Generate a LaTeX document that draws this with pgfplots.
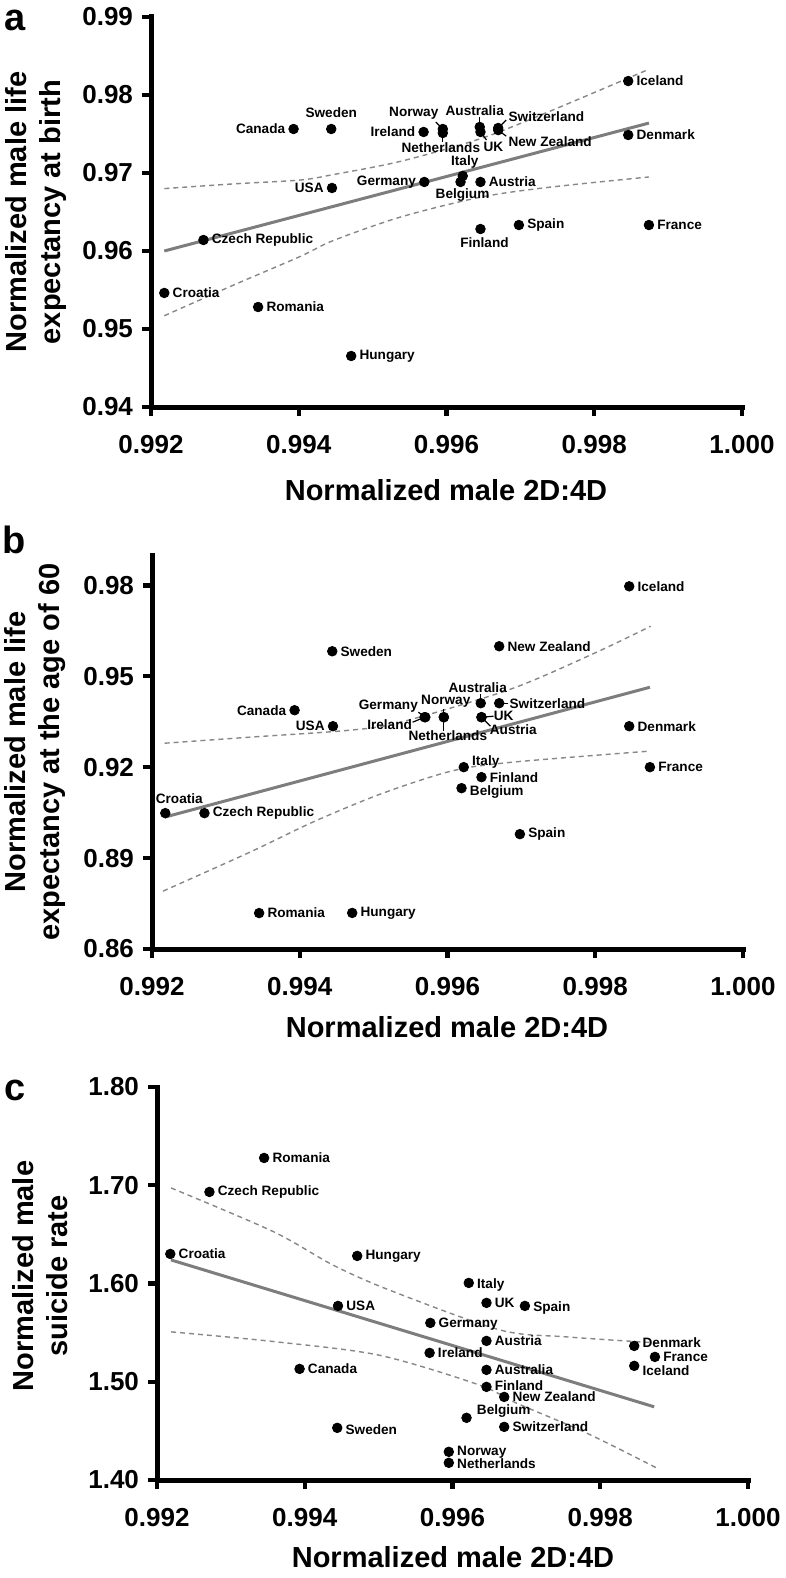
\documentclass[border=0pt]{standalone}
\usepackage{fontspec}
\setmainfont{Liberation Sans}
\usepackage{pgfplots}
\pgfplotsset{compat=1.18}

\definecolor{fitgray}{RGB}{125,125,125}
\definecolor{bandgray}{RGB}{135,135,135}

\tikzset{leader/.style={line width=0.6pt, black},
  lbl/.style={font=\fontsize{6.8}{7}\selectfont\bfseries, inner sep=0.5pt}}
% \lab{x}{y}{anchor}{dx}{dy}{text}
\newcommand{\lab}[6]{\node[lbl, anchor=#3, xshift=#4pt, yshift=#5pt] at (axis cs:#1,#2) {#6};}

\pgfplotsset{
  panel/.style={
    scale only axis, width=295.5pt, anchor=south west,
    axis lines=left,
    axis line style={line width=2.5pt,-,line cap=rect},
    tick align=outside, major tick length=4.5pt,
    tick style={line width=2.2pt,black},
    xmin=0.992, xmax=1.000,
    xtick={0.992,0.994,0.996,0.998,1.000},
    tick label style={font=\fontsize{13}{13}\selectfont\bfseries},
    /pgf/number format/assume math mode=true,
    xticklabel style={yshift=-6pt,/pgf/number format/.cd,fixed,fixed zerofill,precision=3,assume math mode=true},
    yticklabel style={xshift=-1pt,/pgf/number format/.cd,fixed,fixed zerofill,precision=2,assume math mode=true},
    clip=false,
  },
  countries/.style={only marks, mark=*, mark size=2.4pt, black, mark options={fill=black}},
  fit/.style={no marks, fitgray, line width=1.5pt},
  band/.style={no marks, bandgray, line width=0.7pt, dash pattern=on 2.5pt off 2pt, smooth},
}

\begin{document}
\begin{tikzpicture}
\useasboundingbox (0,0) rectangle (393pt,-789pt);

% ---- a: life expectancy at birth
\begin{axis}[panel, at={(75.5pt,-203.5pt)}, height=195pt,
  ymin=0.94, ymax=0.99, ytick={0.94,0.95,0.96,0.97,0.98,0.99}]
\addplot[band] coordinates {(0.99218,0.96800) (0.99311,0.96860) (0.99402,0.96910) (0.99447,0.96980) (0.99538,0.97150) (0.99646,0.97440) (0.99737,0.97780) (0.99874,0.98330)};
\addplot[band] coordinates {(0.99218,0.95170) (0.99311,0.95560) (0.99402,0.95930) (0.99447,0.96135) (0.99538,0.96436) (0.99646,0.96690) (0.99737,0.96815) (0.99874,0.96949)};
\addplot[fit] coordinates {(0.99218,0.9600) (0.99874,0.9764)};
\addplot[countries] table {
x y
0.99218 0.95462
0.99271 0.96141
0.99345 0.95282
0.99471 0.94654
0.99393 0.97564
0.99444 0.97564
0.99445 0.96808
0.99570 0.96885
0.99569 0.97526
0.99595 0.97564
0.99595 0.97513
0.99645 0.97590
0.99646 0.97526
0.99670 0.97577
0.99670 0.97550
0.99622 0.96962
0.99619 0.96885
0.99646 0.96885
0.99646 0.96282
0.99698 0.96333
0.99874 0.96333
0.99846 0.98179
0.99846 0.97487
};
\lab{0.99218}{0.95462}{west}{3.5}{0}{Croatia}
\lab{0.99271}{0.96141}{west}{3.5}{0}{Czech Republic}
\lab{0.99345}{0.95282}{west}{3.5}{0}{Romania}
\lab{0.99471}{0.94654}{west}{3.5}{0}{Hungary}
\lab{0.99393}{0.97564}{east}{-3.5}{0}{Canada}
\lab{0.99444}{0.97564}{center}{0}{8}{Sweden}
\lab{0.99445}{0.96808}{east}{-3.5}{0}{USA}
\lab{0.99570}{0.96885}{east}{-3.5}{0}{Germany}
\lab{0.99569}{0.97526}{east}{-3.5}{0}{Ireland}
\lab{0.99595}{0.97564}{center}{-14.5}{8}{Norway}
\lab{0.99595}{0.97513}{center}{-1}{-7.5}{Netherlands}
\lab{0.99645}{0.97590}{center}{-2.5}{8}{Australia}
\lab{0.99646}{0.97526}{center}{6.5}{-7.5}{UK}
\lab{0.99670}{0.97577}{west}{4.5}{5.5}{Switzerland}
\lab{0.99670}{0.97550}{west}{4.5}{-6}{New Zealand}
\lab{0.99622}{0.96962}{center}{1}{7}{Italy}
\lab{0.99619}{0.96885}{center}{1}{-6.5}{Belgium}
\lab{0.99646}{0.96885}{west}{3.5}{0}{Austria}
\lab{0.99646}{0.96282}{center}{2}{-7}{Finland}
\lab{0.99698}{0.96333}{west}{3.5}{0}{Spain}
\lab{0.99874}{0.96333}{west}{3.5}{0}{France}
\lab{0.99846}{0.98179}{west}{3.5}{0}{Iceland}
\lab{0.99846}{0.97487}{west}{3.5}{0}{Denmark}
\draw[leader] (axis cs:0.99595,0.97564) -- ++(-3.5pt,3.5pt);
\draw[leader] (axis cs:0.99595,0.97513) -- ++(0pt,-4.5pt);
\draw[leader] (axis cs:0.99645,0.97590) -- ++(0pt,5pt);
\draw[leader] (axis cs:0.99646,0.97526) -- ++(3pt,-4pt);
\draw[leader] (axis cs:0.99670,0.97577) -- ++(4pt,4pt);
\draw[leader] (axis cs:0.99670,0.97550) -- ++(4pt,-3pt);
\end{axis}

% ---- b: life expectancy at 60
\begin{axis}[panel, at={(76pt,-474.5pt)}, height=197pt,
  ymin=0.86, ymax=0.99, ytick={0.86,0.89,0.92,0.95,0.98}]
\addplot[band] coordinates {(0.99217,0.9279) (0.99333,0.9299) (0.99468,0.9322) (0.99536,0.9348) (0.99685,0.9457) (0.99798,0.9575) (0.99875,0.9665)};
\addplot[band] coordinates {(0.99215,0.8791) (0.99333,0.8920) (0.99418,0.9019) (0.99509,0.9111) (0.99605,0.9187) (0.99686,0.9216) (0.99874,0.9253)};
\addplot[fit] coordinates {(0.99217,0.9035) (0.99874,0.94637)};
\addplot[countries] table {
x y
0.99218 0.90483
0.99271 0.90483
0.99345 0.87186
0.99471 0.87190
0.99393 0.93879
0.99444 0.95824
0.99445 0.93351
0.99570 0.93648
0.99569 0.93648
0.99595 0.93648
0.99595 0.93648
0.99645 0.94110
0.99646 0.93648
0.99646 0.93648
0.99670 0.94110
0.99670 0.95989
0.99622 0.92000
0.99619 0.91307
0.99646 0.91670
0.99698 0.89790
0.99874 0.92000
0.99846 0.97967
0.99846 0.93351
};
\lab{0.99218}{0.90483}{center}{7}{7.5}{Croatia}
\lab{0.99271}{0.90483}{west}{3.5}{0}{Czech Republic}
\lab{0.99345}{0.87186}{west}{3.5}{0}{Romania}
\lab{0.99471}{0.87190}{west}{3.5}{0}{Hungary}
\lab{0.99393}{0.93879}{east}{-3.5}{0}{Canada}
\lab{0.99444}{0.95824}{west}{3.5}{0}{Sweden}
\lab{0.99445}{0.93351}{east}{-3.5}{0}{USA}
\lab{0.99570}{0.93648}{center}{-18.5}{5.5}{Germany}
\lab{0.99569}{0.93648}{center}{-17.5}{-3.5}{Ireland}
\lab{0.99595}{0.93648}{center}{1}{8}{Norway}
\lab{0.99595}{0.93648}{center}{2}{-9}{Netherlands}
\lab{0.99645}{0.94110}{center}{-1.5}{8}{Australia}
\lab{0.99646}{0.93648}{west}{5.5}{0.5}{UK}
\lab{0.99646}{0.93648}{west}{3.5}{-6}{Austria}
\lab{0.99670}{0.94110}{west}{4.5}{0}{Switzerland}
\lab{0.99670}{0.95989}{west}{3.5}{0}{New Zealand}
\lab{0.99622}{0.92000}{west}{3.5}{2.5}{Italy}
\lab{0.99619}{0.91307}{west}{3.5}{-2}{Belgium}
\lab{0.99646}{0.91670}{west}{3.5}{0}{Finland}
\lab{0.99698}{0.89790}{west}{3.5}{0}{Spain}
\lab{0.99874}{0.92000}{west}{3.5}{0}{France}
\lab{0.99846}{0.97967}{west}{3.5}{0}{Iceland}
\lab{0.99846}{0.93351}{west}{3.5}{0}{Denmark}
\draw[leader] (axis cs:0.99570,0.93648) -- ++(-3.5pt,2.5pt);
\draw[leader] (axis cs:0.99569,0.93648) -- ++(-6pt,-2.5pt);
\draw[leader] (axis cs:0.99595,0.93648) -- ++(0pt,4pt);
\draw[leader] (axis cs:0.99595,0.93648) -- ++(0pt,-7pt);
\draw[leader] (axis cs:0.99645,0.94110) -- ++(0pt,4.5pt);
\draw[leader] (axis cs:0.99670,0.94110) -- ++(4.5pt,0pt);
\draw[leader] (axis cs:0.99646,0.93648) -- ++(6pt,0.5pt);
\draw[leader] (axis cs:0.99646,0.93648) -- ++(4.5pt,-4.5pt);
\end{axis}

% ---- c: suicide rate
\begin{axis}[panel, at={(78.5pt,-740pt)}, height=196.5pt,
  ymin=1.40, ymax=1.80, ytick={1.40,1.50,1.60,1.70,1.80}]
\addplot[band] coordinates {(0.99219,1.6973) (0.99357,1.6530) (0.99438,1.6189) (0.99514,1.5935) (0.99664,1.5528) (0.99754,1.5457) (0.99876,1.5396)};
\addplot[band] coordinates {(0.99219,1.5508) (0.99357,1.5410) (0.99501,1.5270) (0.99636,1.4968) (0.99686,1.4785) (0.99781,1.4480) (0.99876,1.4124)};
\addplot[fit] coordinates {(0.99219,1.6240) (0.99873,1.4745)};
\addplot[countries] table {
x y
0.99345 1.7278
0.99271 1.6932
0.99218 1.6301
0.99471 1.6281
0.99445 1.5772
0.99393 1.5131
0.99444 1.4531
0.99622 1.6006
0.99646 1.5803
0.99698 1.5772
0.99570 1.5599
0.99646 1.5416
0.99569 1.5294
0.99646 1.5121
0.99646 1.4948
0.99670 1.4846
0.99619 1.4633
0.99670 1.4541
0.99595 1.4287
0.99595 1.4175
0.99846 1.5365
0.99874 1.5253
0.99846 1.5162
};
\lab{0.99345}{1.7278}{west}{3.5}{0}{Romania}
\lab{0.99271}{1.6932}{west}{3.5}{0}{Czech Republic}
\lab{0.99218}{1.6301}{west}{3.5}{0}{Croatia}
\lab{0.99471}{1.6281}{west}{3.5}{0}{Hungary}
\lab{0.99445}{1.5772}{west}{3.5}{0}{USA}
\lab{0.99393}{1.5131}{west}{3.5}{0}{Canada}
\lab{0.99444}{1.4531}{west}{3.5}{-1}{Sweden}
\lab{0.99622}{1.6006}{west}{3.5}{-1}{Italy}
\lab{0.99646}{1.5803}{west}{3.5}{0}{UK}
\lab{0.99698}{1.5772}{west}{3.5}{-1}{Spain}
\lab{0.99570}{1.5599}{west}{3.5}{-0.5}{Germany}
\lab{0.99646}{1.5416}{west}{3.5}{0}{Austria}
\lab{0.99569}{1.5294}{west}{3.5}{0}{Ireland}
\lab{0.99646}{1.5121}{west}{3.5}{0}{Australia}
\lab{0.99646}{1.4948}{west}{3.5}{0.5}{Finland}
\lab{0.99670}{1.4846}{west}{3.5}{0}{New Zealand}
\lab{0.99619}{1.4633}{west}{4.5}{3.5}{Belgium}
\lab{0.99670}{1.4541}{west}{3.5}{0}{Switzerland}
\lab{0.99595}{1.4287}{west}{3.5}{0}{Norway}
\lab{0.99595}{1.4175}{west}{3.5}{-0.5}{Netherlands}
\lab{0.99846}{1.5365}{west}{3.5}{1.5}{Denmark}
\lab{0.99874}{1.5253}{west}{3.5}{0}{France}
\lab{0.99846}{1.5162}{west}{3.5}{-2.5}{Iceland}
\end{axis}

% titles and panel letters
\begin{scope}[every node/.style={font=\fontsize{14.5}{17}\selectfont\bfseries, align=center}]
\node[rotate=90] at (18pt,-106pt) {Normalized male life\\expectancy at birth};
\node at (223pt,-245pt) {Normalized male 2D:4D};
\node[rotate=90] at (17.5pt,-376pt) {Normalized male life\\expectancy at the age of 60};
\node at (223.5pt,-513.5pt) {Normalized male 2D:4D};
\node[rotate=90] at (20pt,-638pt) {Normalized male\\suicide rate};
\node at (226.5pt,-778.5pt) {Normalized male 2D:4D};
\end{scope}
\begin{scope}[every node/.style={font=\fontsize{19}{19}\selectfont\bfseries}]
\node at (7.5pt,-10pt) {a};
\node at (7pt,-270pt) {b};
\node at (7.5pt,-545pt) {c};
\end{scope}
\end{tikzpicture}
\end{document}
